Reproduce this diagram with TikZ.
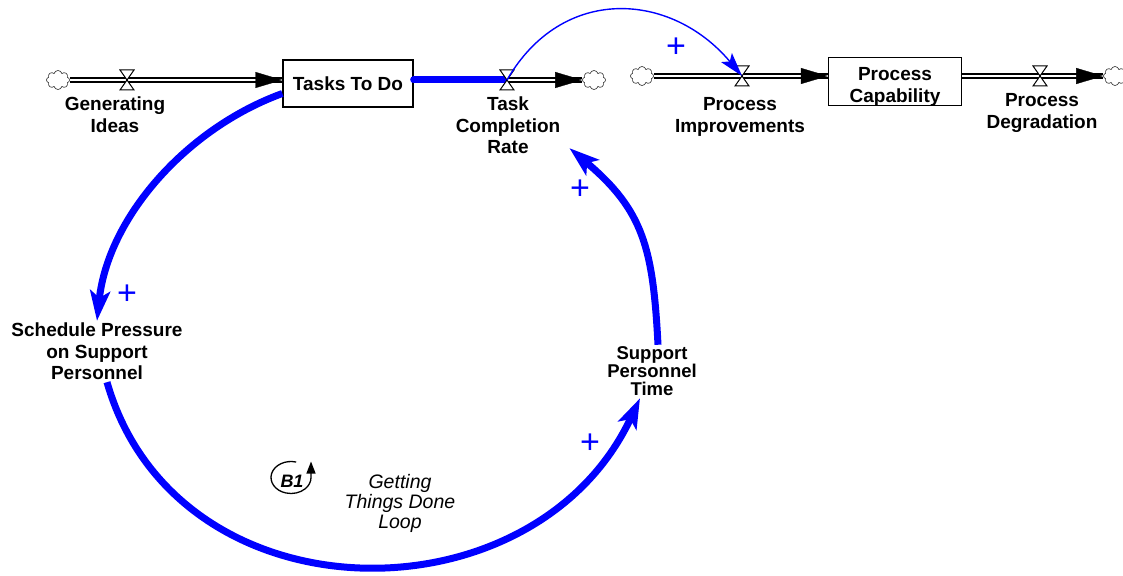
\documentclass[tikz,border=0pt]{standalone}
\usepackage{fontspec}
\setmainfont{Liberation Sans}
\usetikzlibrary{arrows.meta,shapes.symbols}

\definecolor{linkColor}{RGB}{0,0,255}

\tikzset{
  stock/.style={draw, line width=1.3pt, minimum width=130pt, minimum height=47pt, inner sep=0pt, align=center, font=\bfseries\fontsize{19}{21.5}\selectfont},
  varname/.style={align=center, inner sep=2pt, font=\bfseries\fontsize{19}{21.5}\selectfont},
  cloudnode/.style={cloud, draw=black!85, line width=0.6pt, cloud puffs=8, aspect=1.2, minimum width=23pt, minimum height=19pt, inner sep=0pt},
  pipe/.style={draw, line width=1.7pt, double=white, double distance=2.6pt},
  pipehead/.style={draw=white, line width=0.3pt, -{Triangle[length=27pt,width=16pt,color=black]}},
  valve/.style={draw, line width=1pt, fill=white},
  link/.style={draw=linkColor, line width=7pt, -{Stealth[length=30pt,width=20pt,inset=7pt]}},
  thinlink/.style={draw=linkColor, line width=1.4pt, -{Stealth[length=24pt,width=14pt,inset=5pt]}},
  polarity/.style={text=linkColor, inner sep=0pt, font=\fontsize{34}{34}\selectfont}
}

\begin{document}
\begin{tikzpicture}[x=1pt,y=1pt]
\useasboundingbox (0,0) rectangle (1123,-575);

% stocks
\node[stock] (tasks) at (348,-83.5) {Tasks To Do};
\node[stock, minimum width=133pt, minimum height=48pt] (capab) at (895,-81.5) {};
\node[varname] (capabname) at ([yshift=-5.5pt]capab.center) {Process\\Capability};

% flows
\coordinate (v1) at (127,-80);
\coordinate (v2) at (507,-80);
\coordinate (v3) at (742,-76);
\coordinate (v4) at (1040,-76);
\node[cloudnode] (c1) at (58,-80) {};
\node[cloudnode] (c2) at (594,-80) {};
\node[cloudnode] (c3) at (642,-76) {};
\node[cloudnode] (c4) at (1115,-76) {};

\draw[pipe] (c1.east) -- (tasks.west |- c1);
\draw[pipehead] (v1) -- (tasks.west |- v1);
\draw[linkColor, line width=7pt, line cap=round] (tasks.east |- v2) -- (v2);
\draw[pipe] (v2) -- (c2.west);
\draw[pipehead] (v2) -- (c2.west);
\draw[pipe] (c3.east) -- (capab.west |- c3);
\draw[pipehead] (v3) -- (capab.west |- v3);
\draw[pipe] (capab.east |- v4) -- (c4.west);
\draw[pipehead] (v4) -- (c4.west);
\foreach \v in {v1,v2,v3,v4}
  \draw[valve] (\v) +(-7,10) -- +(7,10) -- +(-7,-10) -- +(7,-10) -- cycle;

% variable names
\node[varname] (gen) at (115,-114.5) {Generating\\Ideas};
\node[varname] (rate) at (508,-125.5) {Task\\Completion\\Rate};
\node[varname] (impr) at (740,-117) {Process\\Improvements};
\node[varname] (degr) at (1042,-113) {Process\\Degradation};
\node[varname] (sched) at (97,-351.5) {Schedule Pressure\\on Support\\Personnel};
\node[varname, font=\bfseries\fontsize{18.5}{18}\selectfont] (supp) at (652,-371.5) {Support\\Personnel\\Time};

% causal links
\draw[thinlink] (v2) to[out=60,in=130,looseness=1.2] (v3);
\draw[link] ([yshift=-10pt]tasks.west) to[out=200,in=84,looseness=0.9] (sched.north);
\draw[link] ([xshift=10pt]sched.south) to[out=-74,in=-115,looseness=1.2] ([xshift=-12pt]supp.south);
\draw[link] ([xshift=6pt]supp.north) to[out=93,in=-40,looseness=1.15] ([shift={(7pt,8pt)}]rate.south east);

\node[polarity] (pl1) at (676,-48) {+};
\node[polarity] (pl2) at (127,-295) {+};
\node[polarity] (pl3) at (590,-444) {+};
\node[polarity] (pl4) at (580,-190) {+};

% loop marker
\node[font=\bfseries\itshape\fontsize{18}{18}\selectfont, inner sep=0pt] (b1) at (292,-481) {B1};
\draw[line width=1.3pt, -{Triangle[length=12pt,width=9pt]}] (291,-477.5) ++(75:20 and 16)
  arc[start angle=75, end angle=360, x radius=20, y radius=16] -- ++(0,16);
\node[align=center, font=\itshape\fontsize{19.5}{20}\selectfont] (gtd) at (400,-503) {Getting\\Things Done\\Loop};
\end{tikzpicture}
\end{document}
